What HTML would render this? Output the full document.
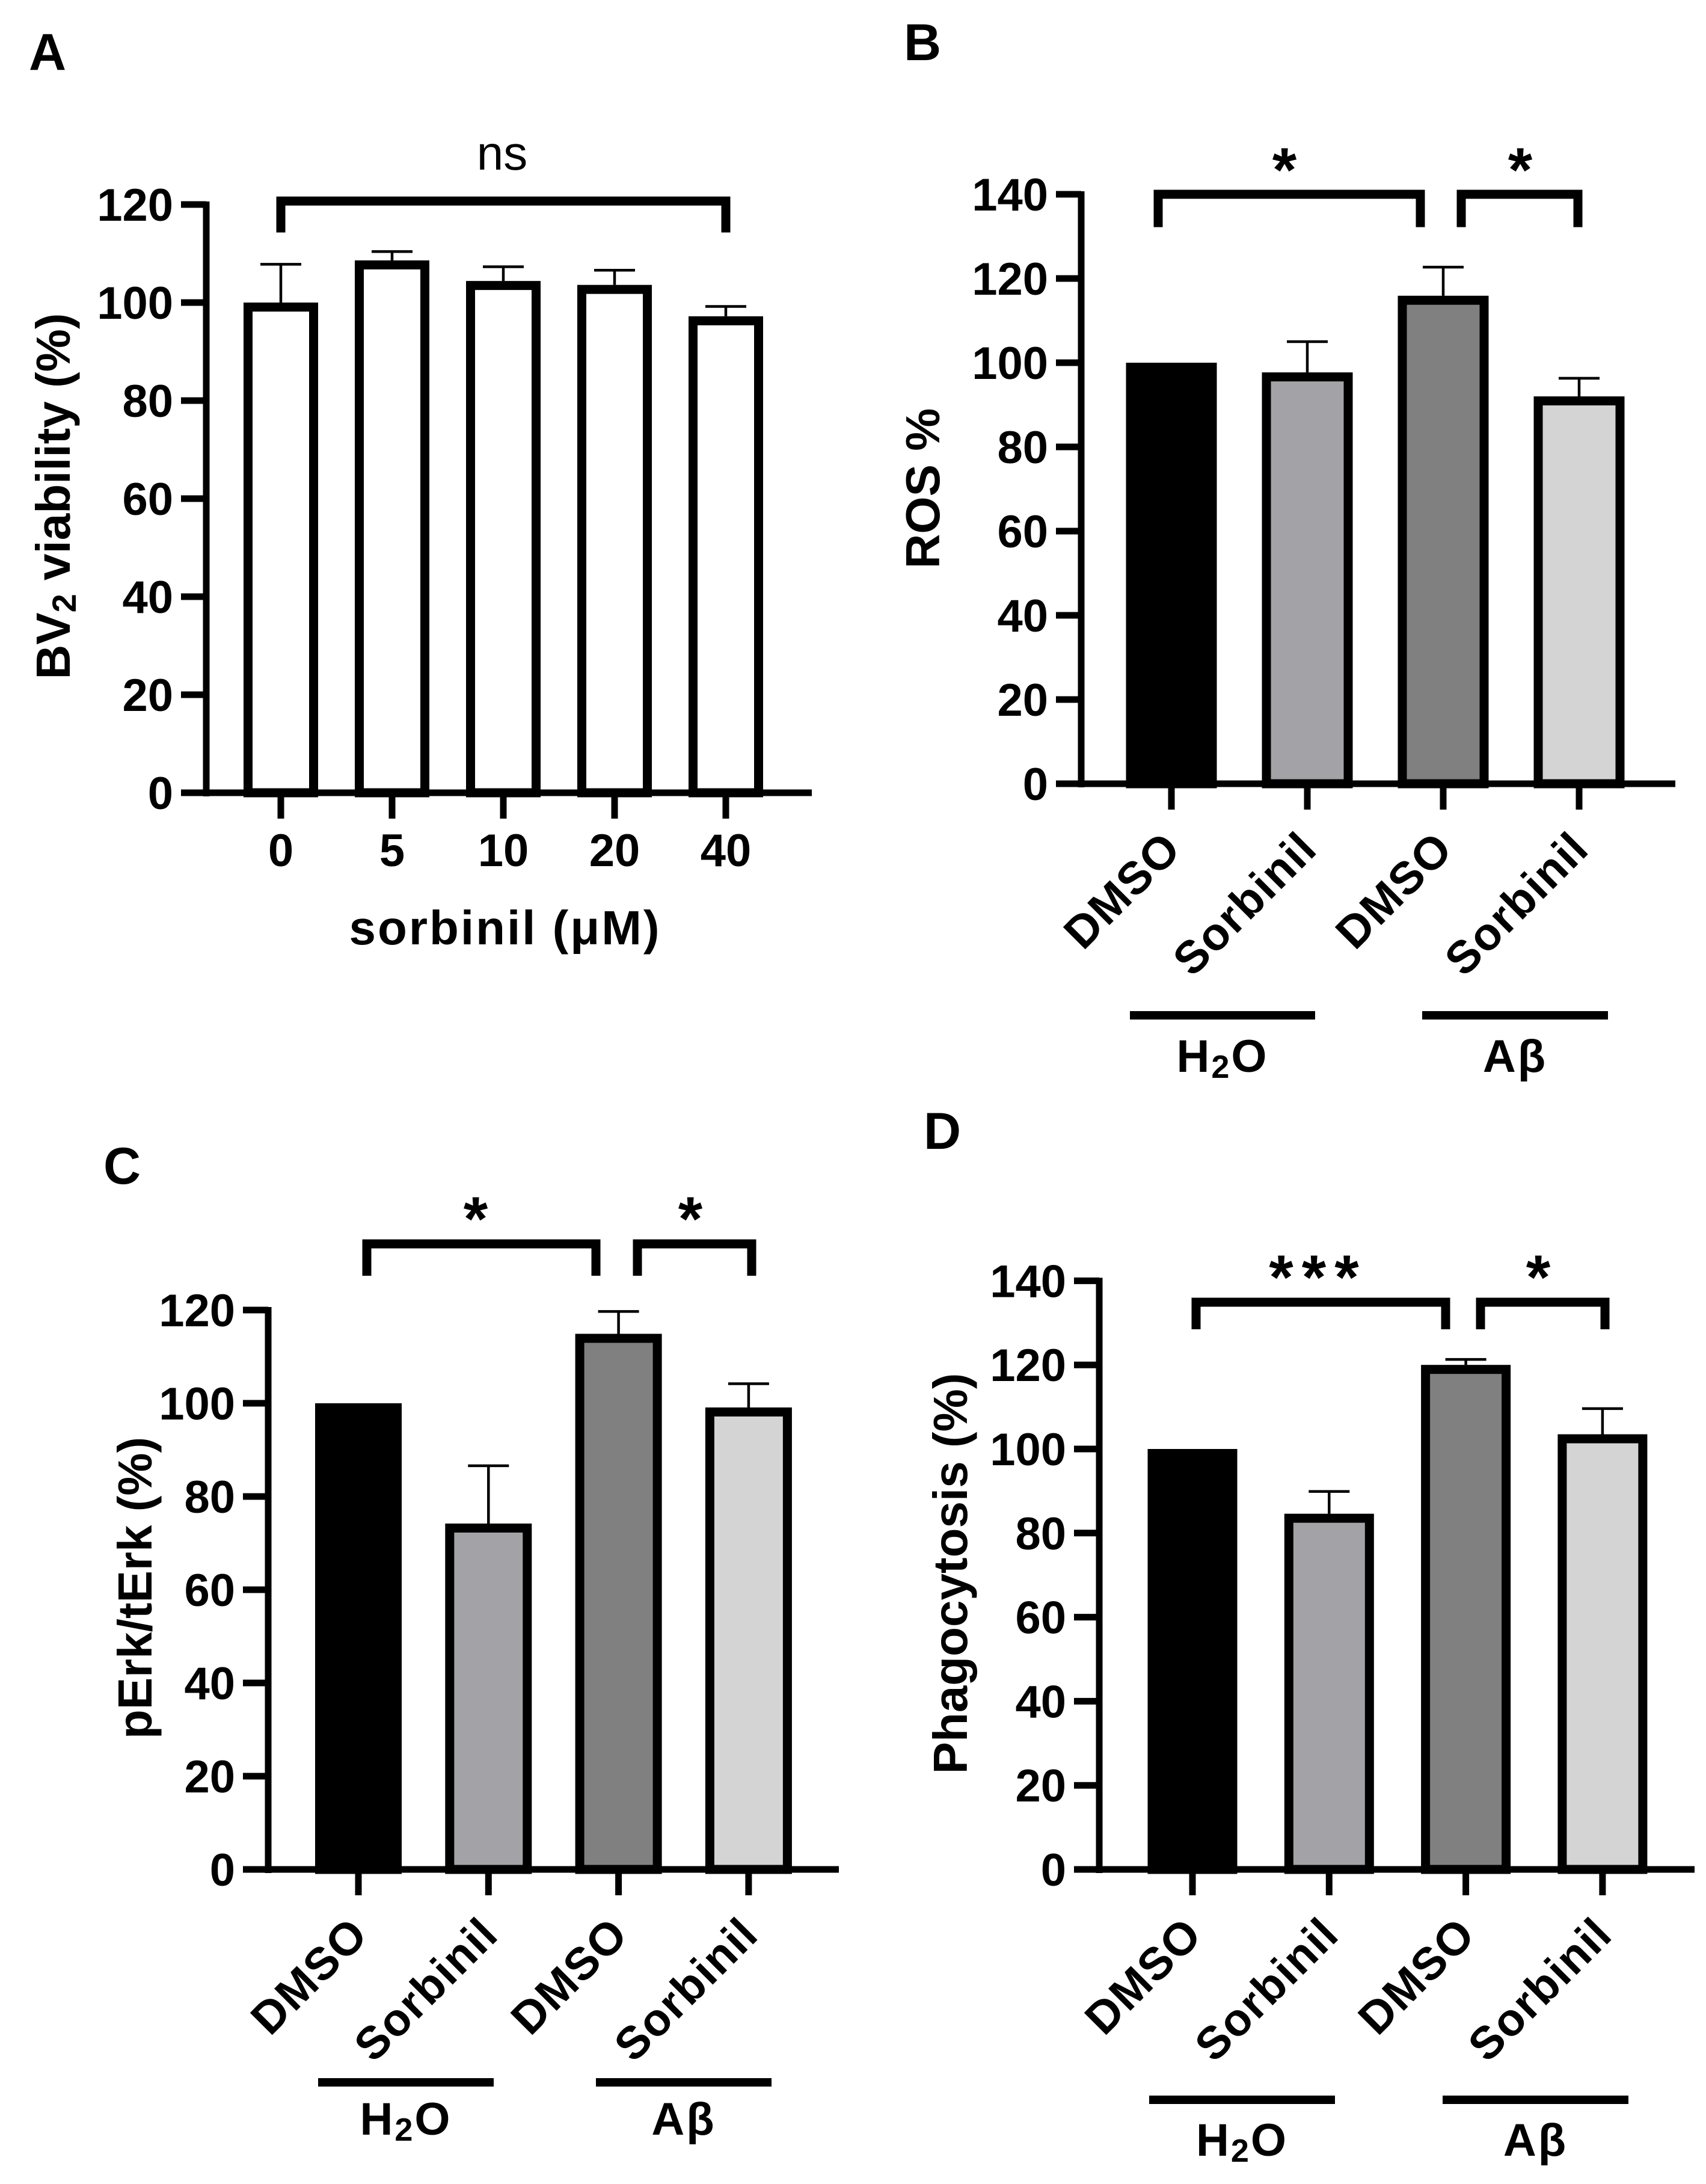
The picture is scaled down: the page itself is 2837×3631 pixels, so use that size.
<!DOCTYPE html>
<html><head><meta charset="utf-8"><style>
html,body{margin:0;padding:0;background:#fff}
svg{display:block}
text{font-family:"Liberation Sans",Arial,sans-serif;font-weight:bold;fill:#000}
</style></head><body>
<svg id="fig" width="2837" height="3631" viewBox="0 0 2837 3631" xmlns="http://www.w3.org/2000/svg">
<rect x="0" y="0" width="2837" height="3631" fill="#fff"/>
</svg>
<script>
// Panel A data
const aCategories = ["0","5","10","20","40"];
const aValues = [100, 108.6, 104.4, 103.6, 97.2];
const aErrors = [7.8, 1.8, 2.9, 3.0, 2.0];
const aTicks = [0,20,40,60,80,100,120];
// Panel B data
const bCategories = ["DMSO","Sorbinil","DMSO","Sorbinil"];
const bValues = [100, 97.7, 115.9, 92];
const bErrors = [0, 7.3, 6.8, 4.3];
const bTicks = [0,20,40,60,80,100,120,140];
// Panel C data
const cCategories = ["DMSO","Sorbinil","DMSO","Sorbinil"];
const cValues = [100, 74.2, 114.9, 99.1];
const cErrors = [0, 12.4, 4.8, 5.1];
const cTicks = [0,20,40,60,80,100,120];
// Panel D data
const dCategories = ["DMSO","Sorbinil","DMSO","Sorbinil"];
const dValues = [100, 84.6, 120, 103.5];
const dErrors = [0, 5.3, 1.3, 6.1];
const dTicks = [0,20,40,60,80,100,120,140];
const fills4 = ["#000000","#a3a2a7","#808080","#d4d4d4"];

const NS = "http://www.w3.org/2000/svg";
const svg = document.getElementById('fig');
function mk(tag, attrs, parent){
  const e = document.createElementNS(NS, tag);
  for (const k in attrs) e.setAttribute(k, attrs[k]);
  (parent||svg).appendChild(e);
  return e;
}
function line(g,x1,y1,x2,y2,w,name){
  const l = mk('line',{x1:x1,y1:y1,x2:x2,y2:y2,stroke:'#000','stroke-width':w},g);
  
  
  return l;
}
function txt(g,x,y,s,fs,anchor,name){
  const t = mk('text',{x:x,y:y,'font-size':fs,'text-anchor':anchor||'middle'},g);
  t.textContent = s;
  
  
  return t;
}

function panel(cfg){
  const g = mk('g',{});
  
  
  const ax = cfg.axisX, y0 = cfg.zeroY, ppu = cfg.ppu;
  const yS = v => y0 - v*ppu;
  const xS = i => cfg.x0 + cfg.step*i;
  const fs = 76;
  cfg.values.forEach((v,i)=>{
    const cx = xS(i), w = cfg.barW, sw = 15;
    const r = mk('rect',{x:cx-w/2+sw/2, y:yS(v)+sw/2, width:w-sw, height:y0-yS(v)-sw/2,
      fill:cfg.fills[i], stroke:'#000','stroke-width':sw},g);
    
    
    const e = cfg.errors[i];
    if (e > 0){
      line(g,cx,yS(v),cx,yS(v+e),4.5,'error-bar-'+(i+1));
      line(g,cx-34,yS(v+e),cx+34,yS(v+e),4.5,'error-cap-'+(i+1));
    }
  });
  line(g,ax,yS(cfg.ticks[cfg.ticks.length-1])-5,ax,y0+6,11,'y-axis-line');
  line(g,ax-42,y0,cfg.axisEnd,y0,11,'x-axis-line');
  cfg.ticks.forEach(t=>{
    line(g,ax-42,yS(t),ax,yS(t),11,'y-tick-'+t);
    txt(g,ax-55,yS(t)+27,String(t),fs,'end','y-tick-label-'+t);
  });
  cfg.cats.forEach((c,i)=>{
    const cx = xS(i);
    line(g,cx,y0,cx,y0+43,11,'x-tick-'+(i+1));
    if (cfg.rotated){
      const tx = cx+20, ty = y0+112;
      const t = txt(g,tx,ty,c,76,'end','x-tick-label-'+(i+1));
      t.setAttribute('transform','rotate(-45 '+tx+' '+ty+')');
      t.setAttribute('letter-spacing','2');
    } else {
      txt(g,cx,y0+122,c,fs,'middle','x-tick-label-'+(i+1));
    }
  });
  return {g,xS,yS};
}

function bracket(g,x1,x2,yTop,yBot,name){
  const p = mk('path',{d:`M${x1},${yBot} V${yTop} H${x2} V${yBot}`,fill:'none',stroke:'#000','stroke-width':15},g);
  
  
}
function star(g,x,cy,s,name){
  const t = txt(g,x,cy+58,s,104,'middle',name);
  t.setAttribute('letter-spacing','14');
}
function rotTitle(g,cx,cy,name,parts){
  const t = mk('text',{x:cx,y:cy,'font-size':80,'text-anchor':'middle',transform:`rotate(-90 ${cx} ${cy})`},g);
  
  
  t.setAttribute('dominant-baseline','central');
  parts.forEach(p=>{
    const s = mk('tspan',{},t);
    s.textContent = p[0];
    if (p[1]) { s.setAttribute('font-size','56'); s.setAttribute('baseline-shift','-18'); }
  });
}
function groupLabel(g,x1,x2,y,labelY,kind,name){
  line(g,x1,y,x2,y,14,name+'-line');
  const t = mk('text',{x:(x1+x2)/2,y:labelY,'font-size':76,'text-anchor':'middle','letter-spacing':'3'},g);
  
  
  if (kind==='h2o'){
    const a = mk('tspan',{},t); a.textContent='H';
    const b = mk('tspan',{'font-size':54,dy:'10'},t); b.textContent='2';
    const c = mk('tspan',{dy:'-10'},t); c.textContent='O';
  } else {
    t.textContent = 'Aβ';
    t.setAttribute('font-family','"Liberation Sans","DejaVu Sans",sans-serif');
  }
}
function letter(x,y,s,name){
  txt(svg,x,y,s,86,'start',name);
}

// Panel A
letter(48,116,'A','panel-label-a');
const A = panel({name:'panel-a',axisX:343,zeroY:1318,ppu:8.15,x0:467,step:185,barW:124,
  axisEnd:1350,values:aValues,errors:aErrors,ticks:aTicks,cats:aCategories,fills:aCategories.map(()=>'#fff'),rotated:false});
bracket(A.g,A.xS(0),A.xS(4),A.yS(120.7),A.yS(114.3),'ns-bracket');
txt(A.g,835,282,'ns',80,'middle','ns-label').setAttribute('style','font-weight:normal');
txt(A.g,840,1570,'sorbinil (μM)',80,'middle','x-axis-title').setAttribute('letter-spacing','3');
rotTitle(A.g,88,825,'y-axis-title',[['BV'],['2',true],[' viability (%)']]);

// Panel B
letter(1503,100,'B','panel-label-b');
const B = panel({name:'panel-b',axisX:1798,zeroY:1303,ppu:7.0,x0:1948,step:226,barW:151,
  axisEnd:2786,values:bValues,errors:bErrors,ticks:bTicks,cats:bCategories,fills:fills4,rotated:true});
bracket(B.g,1926,2362,B.yS(140),B.yS(132.2),'sig-bracket-1');
bracket(B.g,2430,2624,B.yS(140),B.yS(132.2),'sig-bracket-2');
star(B.g,2143,260,'*','sig-star-1');
star(B.g,2535,260,'*','sig-star-2');
rotTitle(B.g,1534,812,'y-axis-title',[['ROS %']]);
groupLabel(B.g,1879,2187,1688,1782,'h2o','group-h2o');
groupLabel(B.g,2365,2674,1688,1782,'ab','group-abeta');

// Panel C
letter(172,1968,'C','panel-label-c');
const C = panel({name:'panel-c',axisX:446,zeroY:3108,ppu:7.75,x0:596,step:216.3,barW:144,
  axisEnd:1395,values:cValues,errors:cErrors,ticks:cTicks,cats:cCategories,fills:fills4,rotated:true});
bracket(C.g,610,991,2068,2121,'sig-bracket-1');
bracket(C.g,1060,1250,2068,2121,'sig-bracket-2');
star(C.g,798,2004,'*','sig-star-1');
star(C.g,1155,2004,'*','sig-star-2');
rotTitle(C.g,224,2640,'y-axis-title',[['pErk/tErk (%)']]);
groupLabel(C.g,529,821,3462,3549,'h2o','group-h2o');
groupLabel(C.g,991,1283,3462,3549,'ab','group-abeta');

// Panel D
letter(1536,1910,'D','panel-label-d');
const D = panel({name:'panel-d',axisX:1828,zeroY:3108,ppu:6.99,x0:1983,step:227.3,barW:149,
  axisEnd:2818,values:dValues,errors:dErrors,ticks:dTicks,cats:dCategories,fills:fills4,rotated:true});
bracket(D.g,1989,2404,2165,2210,'sig-bracket-1');
bracket(D.g,2462,2669,2165,2210,'sig-bracket-2');
star(D.g,2192,2101,'***','sig-star-1');
star(D.g,2565,2101,'*','sig-star-2');
rotTitle(D.g,1580,2616,'y-axis-title',[['Phagocytosis (%)']]);
groupLabel(D.g,1911,2220,3491,3584,'h2o','group-h2o');
groupLabel(D.g,2399,2708,3491,3584,'ab','group-abeta');
</script>
</body></html>
